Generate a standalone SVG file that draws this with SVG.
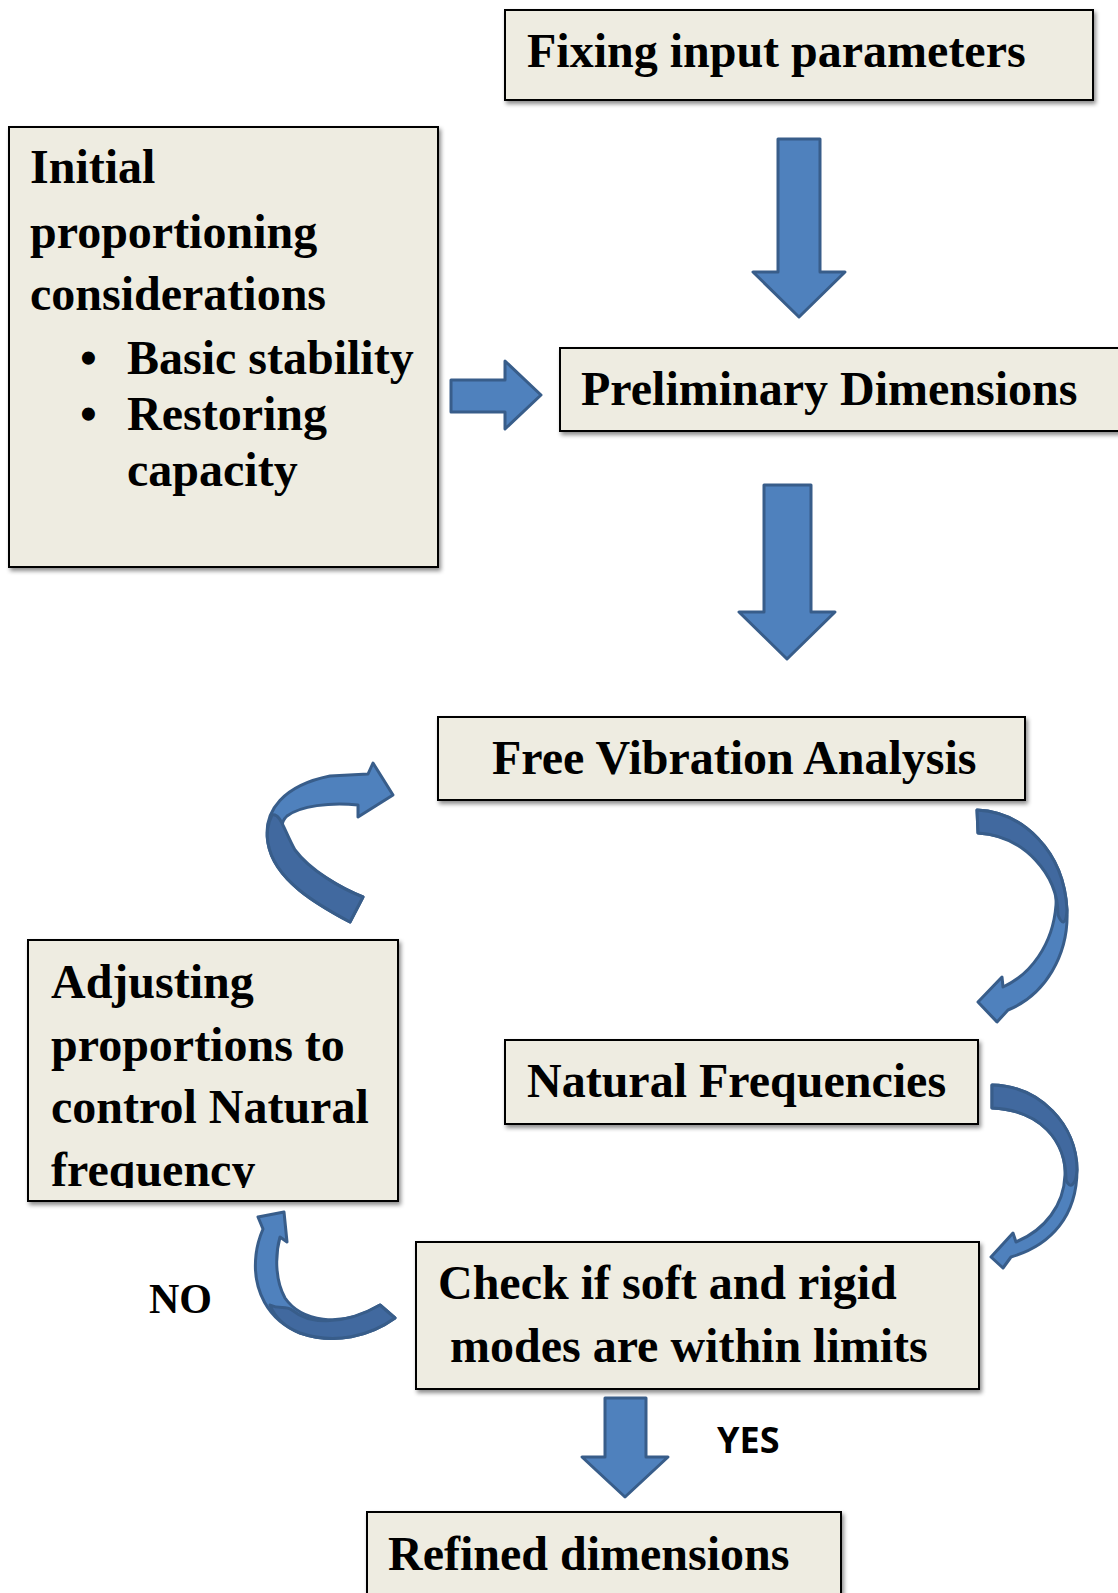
<svg xmlns="http://www.w3.org/2000/svg" width="1118" height="1593" viewBox="0 0 1118 1593">
<defs>
<style>
.box{fill:#EEECE1;stroke:#000;stroke-width:2;filter:url(#sh)}
.t{font-family:"Liberation Serif","Times New Roman",serif;font-weight:bold;font-size:48px;fill:#000}
.arr{fill:#4F81BD;stroke:#385D8A;stroke-width:3;stroke-linejoin:round}
.dk{fill:#41699F;stroke:#385D8A;stroke-width:3;stroke-linejoin:round}
</style>
<filter id="sh" x="-5%" y="-5%" width="115%" height="120%">
<feDropShadow dx="2" dy="3" stdDeviation="2" flood-color="#000" flood-opacity="0.45"/>
</filter>
<clipPath id="adjclip"><rect x="28" y="940" width="370" height="248"/></clipPath>
</defs>

<g id="connectors">
<path class="arr" d="M778,139 H820 V272 H845 L799,317 L753,272 H778 Z"/>
<path class="arr" d="M451,380 H505 V361 L541,395 L505,429 V412 H451 Z"/>
<path class="arr" d="M764,485 H811 V612 H835 L787,659 L739,612 H764 Z"/>
<path class="arr" d="M605,1398 H646 V1457 H668 L625,1497 L582,1457 H605 Z"/>
<!-- curved arrow A: adjusting -> free vibration -->
<path class="arr" d="M350,922 C318,905 274,880 268,843 C262,810 285,785 330,776 L368,774 L373,763 L393,795 L358,817 L358,805 C330,802 300,806 287,816 C276,826 285,845 300,858 C315,872 340,888 363,897 Z"/>
<path class="dk" d="M350,922 C318,905 274,880 268,843 C266,832 268,823 272,815 C280,812 284,830 295,850 C310,870 340,888 363,897 Z"/>
<!-- curved arrow B: free vibration -> natural frequencies -->
<path class="arr" d="M977,810 C1022,812 1064,850 1067,910 C1069,955 1045,995 1008,1010 L997,1022 L978,1002 L1002,977 L1003,987 C1030,975 1053,945 1056,905 C1058,870 1025,836 978,833 Z"/>
<path class="dk" d="M977,810 C1022,812 1064,850 1067,910 C1066,925 1062,925 1058,915 C1058,875 1025,836 978,833 Z"/>
<!-- curved arrow C: natural frequencies -> check -->
<path class="arr" d="M992,1085 C1040,1086 1077,1125 1077,1170 C1077,1215 1052,1245 1011,1257 L1003,1268 L991,1257 L1013,1233 L1016,1242 C1045,1230 1064,1205 1065,1175 C1066,1140 1040,1110 992,1108 Z"/>
<path class="dk" d="M992,1085 C1040,1086 1077,1125 1077,1170 C1076,1185 1070,1190 1066,1180 C1066,1140 1040,1110 992,1108 Z"/>
<!-- curved arrow D: check -> adjusting (NO) -->
<path class="arr" d="M395,1318 C370,1336 335,1345 300,1333 C268,1320 252,1290 256,1255 C257,1245 260,1236 263,1229 L258,1217 L284,1212 L287,1242 L280,1237 C275,1255 275,1280 285,1298 C300,1320 340,1330 380,1305 Z"/>
<path class="dk" d="M395,1318 C370,1336 335,1345 300,1333 C285,1327 275,1318 270,1305 C280,1310 285,1305 292,1310 C310,1325 345,1325 380,1305 Z"/>
</g>

<g id="n-fixing">
<rect class="box" x="505" y="10" width="588" height="90"/>
<text class="t" x="527" y="67">Fixing input parameters</text>
</g>

<g id="n-initial">
<rect class="box" x="9" y="127" width="429" height="440"/>
<text class="t" x="30" y="183">Initial</text>
<text class="t" x="30" y="248">proportioning</text>
<text class="t" x="30" y="310">considerations</text>
<text class="t" x="80" y="374">•</text>
<text class="t" x="127" y="374">Basic stability</text>
<text class="t" x="80" y="430">•</text>
<text class="t" x="127" y="430">Restoring</text>
<text class="t" x="127" y="486">capacity</text>
</g>

<g id="n-prelim">
<rect class="box" x="560" y="348" width="580" height="83"/>
<text class="t" x="581" y="405">Preliminary Dimensions</text>
</g>

<g id="n-free">
<rect class="box" x="438" y="717" width="587" height="83"/>
<text class="t" x="492" y="774">Free Vibration Analysis</text>
</g>

<g id="n-adjust">
<rect class="box" x="28" y="940" width="370" height="261"/>
<g clip-path="url(#adjclip)">
<text class="t" x="51" y="998">Adjusting</text>
<text class="t" x="51" y="1061">proportions to</text>
<text class="t" x="51" y="1123">control Natural</text>
<text class="t" x="51" y="1186">frequency</text>
</g>
</g>

<g id="n-natural">
<rect class="box" x="505" y="1040" width="473" height="84"/>
<text class="t" x="527" y="1097">Natural Frequencies</text>
</g>

<g id="n-check">
<rect class="box" x="416" y="1242" width="563" height="147"/>
<text class="t" x="438" y="1299">Check if soft and rigid</text>
<text class="t" x="450" y="1362">modes are within limits</text>
</g>

<g id="n-refined">
<rect class="box" x="367" y="1512" width="474" height="100"/>
<text class="t" x="388" y="1570">Refined dimensions</text>
</g>

<g id="labels">
<text class="t" x="149" y="1313" style="font-size:42px">NO</text>
<text x="717" y="1453" style="font-family:'Open Sans','Liberation Sans',sans-serif;font-weight:bold;font-size:36px;fill:#000">YES</text>
</g>
</svg>
